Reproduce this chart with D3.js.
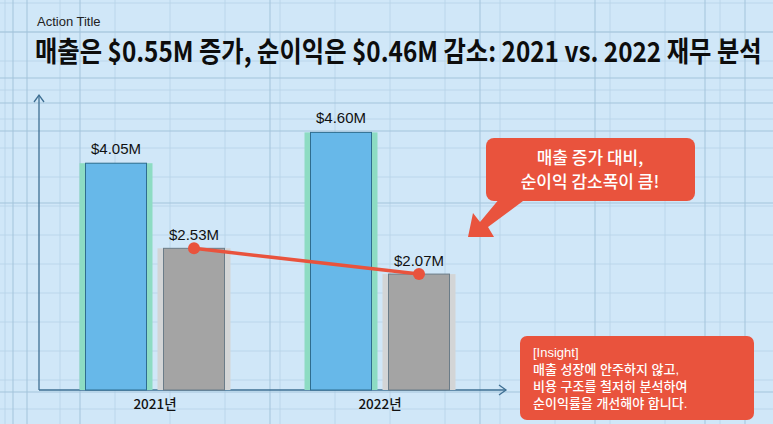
<!DOCTYPE html>
<html>
<head>
<meta charset="utf-8">
<script src="https://cdn.jsdelivr.net/npm/d3@7.9.0/dist/d3.min.js"></script>
<style>
  html, body { margin: 0; padding: 0; background: #d0e7f8; }
  svg { display: block; font-family: "Noto Sans CJK KR", "Noto Sans", sans-serif; }
</style>
</head>
<body>
<svg id="chart" width="773" height="424"></svg>
<script>
// chart data
const years = ['2021년', '2022년'];
const series = ['매출', '순이익'];
const revenue = [4.05, 4.60];
const netIncome = [2.53, 2.07];
const valueLabels = [['$4.05M', '$2.53M'], ['$4.60M', '$2.07M']];

const titleSmall = 'Action Title';
const title = '매출은 $0.55M 증가, 순이익은 $0.46M 감소: 2021 vs. 2022 재무 분석';
const calloutLines = ['매출 증가 대비,', '순이익 감소폭이 큼!'];
const insightLines = ['[Insight]', '매출 성장에 안주하지 않고,', '비용 구조를 철저히 분석하여', '순이익률을 개선해야 합니다.'];

const W = 773, H = 424;
const svg = d3.select('#chart');
const red = '#e9533d';

// blueprint background grid
const bg = svg.append('g');
bg.append('rect').attr('width', W).attr('height', H).attr('fill', '#d0e7f8');
const gx = d3.range(5, W + 1, 55);
const gy = d3.range(3, H + 1, 29);
bg.selectAll('.vg').data(gx).join('line')
  .attr('x1', d => d).attr('x2', d => d).attr('y1', 0).attr('y2', H)
  .attr('stroke', '#b6d3e7').attr('stroke-width', 0.8);
bg.selectAll('.hg').data(gy).join('line')
  .attr('y1', d => d).attr('y2', d => d).attr('x1', 0).attr('x2', W)
  .attr('stroke', '#b6d3e7').attr('stroke-width', 0.8);
// a few stronger drafting lines
const strongV = [13, 27, 80, 270, 480, 595, 705, 745];
const strongH = [32, 78, 103, 131, 203, 392];
bg.selectAll('.sv').data(strongV).join('line')
  .attr('x1', d => d).attr('x2', d => d).attr('y1', 0).attr('y2', H)
  .attr('stroke', '#a3c4db').attr('stroke-width', 1);
bg.selectAll('.sh').data(strongH).join('line')
  .attr('y1', d => d).attr('y2', d => d).attr('x1', 0).attr('x2', W)
  .attr('stroke', '#a3c4db').attr('stroke-width', 1);

// scales
const x0 = d3.scaleBand().domain(years).range([42.5, 492.5]);
const x1 = d3.scaleBand().domain(series).range([-69.5, 69.5]).paddingInner(0.218);
const y = d3.scaleLinear().domain([0, 5]).range([390, 110]);

const rows = years.map((yr, i) => ({
  year: yr,
  vals: [
    { key: series[0], v: revenue[i], label: valueLabels[i][0] },
    { key: series[1], v: netIncome[i], label: valueLabels[i][1] }
  ]
}));

// axes (drafting style arrows)
const axes = svg.append('g').attr('stroke', '#3e6f93').attr('fill', 'none').attr('stroke-width', 1.3);
axes.append('line').attr('x1', 39).attr('x2', 39).attr('y1', y(0)).attr('y2', 95);
axes.append('path').attr('d', 'M34,102 L39,95 L44,102');
axes.append('line').attr('x1', 39).attr('x2', 506).attr('y1', y(0)).attr('y2', y(0));
axes.append('path').attr('d', 'M499,385 L506,390 L499,395');

const xAxis = svg.append('g').attr('transform', `translate(0,${y(0)})`)
  .call(d3.axisBottom(x0).tickSize(0).tickPadding(9));
xAxis.select('.domain').remove();
xAxis.selectAll('text').attr('font-size', 13.5).attr('font-weight', 500).attr('fill', '#111')
  .attr('font-family', '"Noto Sans CJK KR", sans-serif');

// bars
const groups = svg.append('g').selectAll('g').data(rows).join('g')
  .attr('transform', d => `translate(${x0(d.year) + x0.bandwidth() / 2},0)`);

groups.selectAll('rect.halo').data(d => d.vals).join('rect')
  .attr('class', 'halo')
  .attr('x', d => x1(d.key) - 6)
  .attr('width', x1.bandwidth() + 12)
  .attr('y', d => y(d.v))
  .attr('height', d => y(0) - y(d.v))
  .attr('fill', d => d.key === series[0] ? '#8ddcc3' : '#d3d5d6');

groups.selectAll('rect.bar').data(d => d.vals).join('rect')
  .attr('class', 'bar')
  .attr('x', d => x1(d.key))
  .attr('width', x1.bandwidth())
  .attr('y', d => y(d.v))
  .attr('height', d => y(0) - y(d.v))
  .attr('fill', d => d.key === series[0] ? '#67b8e9' : '#a4a4a4')
  .attr('stroke', d => d.key === series[0] ? '#2f6d8f' : '#6b7c88')
  .attr('stroke-width', 1);

groups.selectAll('text.val').data(d => d.vals).join('text')
  .attr('class', 'val')
  .attr('x', d => x1(d.key) + x1.bandwidth() / 2)
  .attr('y', d => y(d.v) - (d.key === series[0] ? 9 : 8))
  .attr('text-anchor', 'middle')
  .attr('font-size', 15)
  .attr('fill', '#111')
  .attr('font-family', '"Liberation Sans", "Noto Sans", sans-serif')
  .text(d => d.label);

// net income trend line
const pts = rows.map(d => [x0(d.year) + x0.bandwidth() / 2 + x1(series[1]) + x1.bandwidth() / 2, y(d.vals[1].v)]);
svg.append('path')
  .attr('d', d3.line()(pts))
  .attr('stroke', red).attr('stroke-width', 3.5).attr('fill', 'none');
svg.selectAll('circle.dot').data(pts).join('circle')
  .attr('cx', d => d[0]).attr('cy', d => d[1]).attr('r', 6).attr('fill', red);

// titles
svg.append('text').attr('x', 37).attr('y', 26).attr('font-size', 13)
  .attr('fill', '#222').attr('font-family', '"Liberation Sans", sans-serif').text(titleSmall);
const tt = svg.append('text').attr('font-size', 28).attr('font-weight', 700)
  .attr('fill', '#0d0d0d').text(title);
// squeeze the headline horizontally so it spans 35..762 like a condensed face
const natural = tt.node().getComputedTextLength();
tt.attr('transform', `translate(35,62) scale(${727 / natural},1)`);

// callout bubble with arrow
const call = svg.append('g');
call.append('path')
  .attr('d', 'M500,198 L527,198 L488,227 L494,237 L468,237 L473,213 L480,222 Z')
  .attr('fill', red);
call.append('rect').attr('x', 486).attr('y', 138).attr('width', 209).attr('height', 63)
  .attr('rx', 8).attr('fill', red);
call.selectAll('text').data(calloutLines).join('text')
  .attr('x', 590).attr('y', (d, i) => 164 + i * 24)
  .attr('text-anchor', 'middle').attr('font-size', 17).attr('font-weight', 500)
  .attr('fill', '#fff').text(d => d);

// insight box
const ins = svg.append('g');
ins.append('rect').attr('x', 520).attr('y', 336).attr('width', 234).attr('height', 84)
  .attr('rx', 7).attr('fill', red);
ins.selectAll('text').data(insightLines).join('text')
  .attr('x', 533).attr('y', (d, i) => 357 + i * 17)
  .attr('font-family', '"Liberation Sans", "Noto Sans CJK KR", sans-serif')
  .attr('font-size', 13).attr('font-weight', 500).attr('fill', '#fff').text(d => d);
</script>
</body>
</html>
